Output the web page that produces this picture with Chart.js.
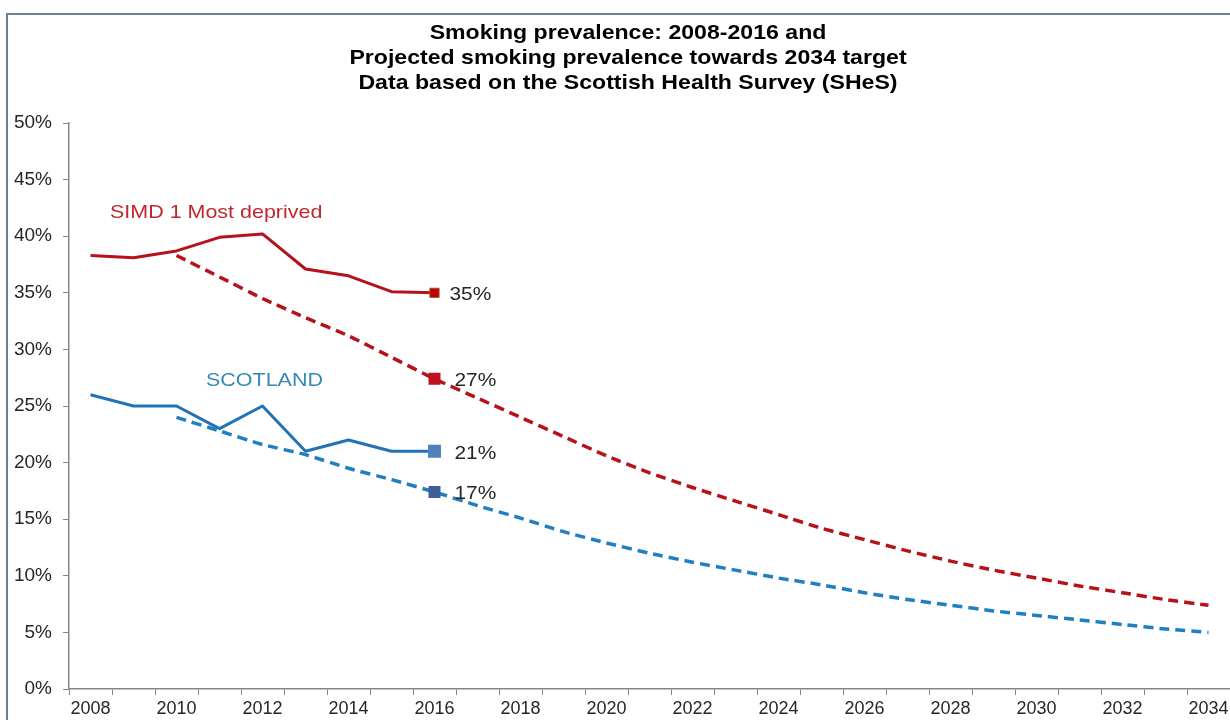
<!DOCTYPE html>
<html lang="en">
<head>
    <meta charset="UTF-8">
    <title>Smoking prevalence 2008-2034</title>
    <script src="https://cdn.jsdelivr.net/npm/chart.js"></script>
    <style>
        body {
            margin: 0;
            background: #ffffff;
            overflow: hidden;
            font-family: "Liberation Sans", Arial, sans-serif;
        }
        .frame {
            position: absolute;
            left: 6px;
            top: 13px;
            width: 1300px;
            height: 800px;
            border-left: 2px solid #6f7f92;
            border-top: 2px solid #6f7f92;
        }
        #smokingChart {
            position: absolute;
            left: 0;
            top: 0;
        }
    </style>
</head>
<body>
    <div class="frame"></div>
    <canvas id="smokingChart" width="1256" height="720"></canvas>

    <script>
        // Years on the x axis
        const years = [];
        for (let y = 2008; y <= 2034; y++) years.push(String(y));

        // Survey results 2008-2016 (%)
        const simdActual = [38.3, 38.1, 38.7, 39.9, 40.2, 37.1, 36.5, 35.1, 35.0];
        const scotlandActual = [26, 25, 25, 23, 25, 21, 22, 21, 21];

        // Projections 2010-2034 (%)
        const simdProjected = [38.3, 36.4, 34.5, 32.8, 31.2, 29.3, 27.4, 25.7, 24.0, 22.3, 20.6, 19.1, 17.8,
                               16.6, 15.4, 14.2, 13.2, 12.2, 11.3, 10.5, 9.8, 9.1, 8.5, 7.9, 7.4];
        const scotlandProjected = [24.0, 22.8, 21.6, 20.7, 19.5, 18.5, 17.4, 16.2, 15.1, 13.9, 12.9, 12.0, 11.2,
                                   10.5, 9.8, 9.2, 8.5, 7.9, 7.4, 6.9, 6.5, 6.1, 5.7, 5.3, 5.0];

        const yTicks = [0, 5, 10, 15, 20, 25, 30, 35, 40, 45, 50];

        const titleLines = [
            'Smoking prevalence: 2008-2016 and',
            'Projected smoking prevalence towards 2034 target',
            'Data based on the Scottish Health Survey (SHeS)'
        ];

        const labelYear = '2016';
        const labelIndex = years.indexOf(labelYear);

        // pad a series out to the full year range
        function fill(values, startYear) {
            const out = years.map(() => null);
            const start = years.indexOf(startYear);
            values.forEach((v, i) => { out[start + i] = v; });
            return out;
        }

        function markerRadius(size) {
            return years.map((_, i) => i === labelIndex ? size : 0);
        }

        // text drawn a little wider than the font's natural width
        function wideText(ctx, text, x, y, sx) {
            ctx.save();
            ctx.translate(x, y);
            ctx.scale(sx, 1);
            ctx.fillText(text, 0, 0);
            ctx.restore();
        }

        const RED = '#b5121b';
        const BLUE = '#2273b5';
        const BLUE_DASH = '#1f7fc1';
        const FONT = '"Liberation Sans", Arial, sans-serif';

        // title, series names and value labels
        const annotations = {
            id: 'annotations',
            afterDatasetsDraw(chart) {
                const ctx = chart.ctx;
                ctx.save();
                ctx.fillStyle = '#000';
                ctx.font = 'bold 21px ' + FONT;
                ctx.textAlign = 'center';
                ctx.textBaseline = 'middle';
                titleLines.forEach((t, i) => wideText(ctx, t, 628, 33 + i * 25, 1.1));

                ctx.textAlign = 'left';
                ctx.font = '19px ' + FONT;
                ctx.fillStyle = '#c0282d';
                wideText(ctx, 'SIMD 1 Most deprived', 110, 213, 1.13);
                ctx.fillStyle = '#3589b5';
                wideText(ctx, 'SCOTLAND', 206, 381, 1.13);

                ctx.fillStyle = '#262626';
                chart.data.datasets.forEach((ds, di) => {
                    const pt = chart.getDatasetMeta(di).data[labelIndex];
                    const v = ds.data[labelIndex];
                    if (!pt || v == null) return;
                    wideText(ctx, Math.round(v) + '%', pt.x + ds.labelOffset, pt.y + 2, 1.1);
                });
                ctx.restore();
            }
        };

        const ctx = document.getElementById('smokingChart').getContext('2d');
        new Chart(ctx, {
            type: 'line',
            data: {
                labels: years,
                datasets: [
                    {
                        label: 'SIMD 1 Most deprived',
                        data: fill(simdActual, '2008'),
                        borderColor: RED,
                        borderWidth: 3,
                        pointStyle: 'rect',
                        pointRadius: markerRadius(6.5),
                        pointBackgroundColor: '#c00000',
                        pointBorderColor: '#a0522d',
                        pointBorderWidth: 1,
                        labelOffset: 15
                    },
                    {
                        label: 'SIMD 1 projected',
                        data: fill(simdProjected, '2010'),
                        borderColor: RED,
                        borderWidth: 3.5,
                        borderDash: [10, 6],
                        tension: 0.2,
                        pointStyle: 'rect',
                        pointRadius: markerRadius(6),
                        pointBackgroundColor: '#c0101e',
                        pointBorderColor: '#c0101e',
                        labelOffset: 20
                    },
                    {
                        label: 'Scotland',
                        data: fill(scotlandActual, '2008'),
                        borderColor: BLUE,
                        borderWidth: 3,
                        pointStyle: 'rect',
                        pointRadius: markerRadius(7),
                        pointBackgroundColor: '#4f81bd',
                        pointBorderColor: '#4f81bd',
                        labelOffset: 20
                    },
                    {
                        label: 'Scotland projected',
                        data: fill(scotlandProjected, '2010'),
                        borderColor: BLUE_DASH,
                        borderWidth: 3.5,
                        borderDash: [10, 6],
                        tension: 0.2,
                        pointStyle: 'rect',
                        pointRadius: markerRadius(6),
                        pointBackgroundColor: '#3f5f9a',
                        pointBorderColor: '#3f5f9a',
                        labelOffset: 20
                    }
                ]
            },
            options: {
                responsive: false,
                animation: false,
                layout: { padding: { left: 0, top: 123, right: 26, bottom: 0 } },
                plugins: {
                    legend: { display: false },
                    title: { display: false },
                    tooltip: { enabled: false }
                },
                elements: {
                    line: { borderJoinStyle: 'round', borderCapStyle: 'butt' }
                },
                scales: {
                    x: {
                        offset: true,
                        grid: {
                            offset: true,
                            drawOnChartArea: false,
                            drawTicks: true,
                            tickLength: 6,
                            color: '#868686'
                        },
                        border: { color: '#868686', width: 1.5 },
                        ticks: {
                            autoSkip: false,
                            maxRotation: 0,
                            padding: 3,
                            color: '#262626',
                            font: { size: 18, family: FONT },
                            callback: function (value, index) {
                                return index % 2 === 0 ? years[index] : '';
                            }
                        },
                        afterFit: function (scale) { scale.height = 31; }
                    },
                    y: {
                        min: 0,
                        max: 50,
                        afterBuildTicks: function (scale) {
                            scale.ticks = yTicks.map(v => ({ value: v }));
                        },
                        grid: {
                            drawOnChartArea: false,
                            drawTicks: true,
                            tickLength: 6,
                            color: '#868686'
                        },
                        border: { color: '#868686', width: 1.5 },
                        ticks: {
                            padding: 11,
                            color: '#262626',
                            font: { size: 19, family: FONT },
                            callback: v => v + '%'
                        },
                        afterFit: function (scale) { scale.width = 69; }
                    }
                }
            },
            plugins: [annotations]
        });
    </script>
</body>
</html>
